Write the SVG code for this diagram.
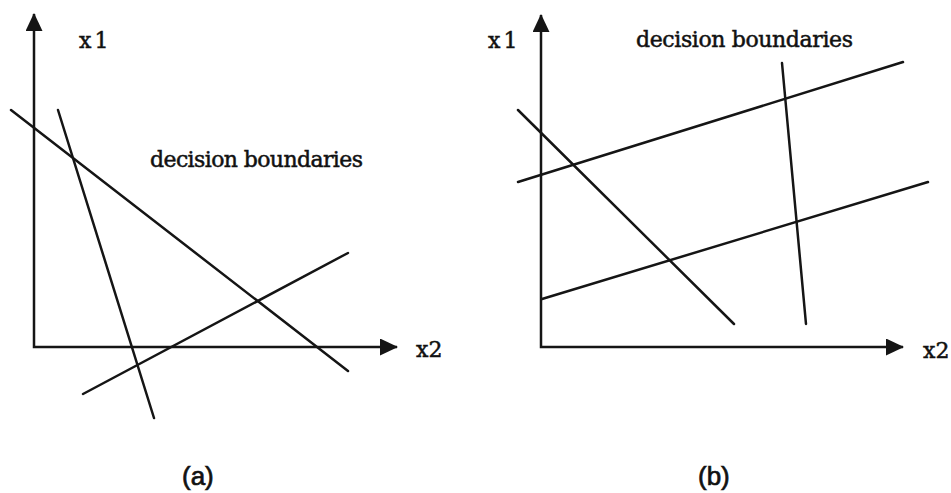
<svg xmlns="http://www.w3.org/2000/svg" width="951" height="493" viewBox="0 0 951 493">
<style>
.bg{fill:#ffffff}
.ax{fill:none;stroke:#151515;stroke-width:2.5}
.ln{stroke:#151515;stroke-width:2.5;stroke-linecap:round}
.lbl{font-family:"DejaVu Serif","Liberation Serif",serif;font-size:22px;fill:#111;stroke:#111;stroke-width:0.5}
.cap{font-family:"Liberation Sans",Arial,sans-serif;font-size:26px;fill:#111;stroke:#111;stroke-width:0.7}
</style>
<defs>
<marker id="arr" markerUnits="userSpaceOnUse" markerWidth="18" markerHeight="17" viewBox="0 0 18 17" refX="17" refY="8.5" orient="auto-start-reverse">
<path d="M0,0 L18,8.5 L0,17 Z" fill="#151515"/>
</marker>
</defs>
<rect class="bg" x="0" y="0" width="951" height="493"/>
<g id="panel-a">
<g id="axes-a">
<path class="ax" d="M34,14 V347 H397" marker-start="url(#arr)" marker-end="url(#arr)"/>
</g>
<g id="connectors-a">
<line class="ln" x1="11" y1="110" x2="348" y2="371"/>
<line class="ln" x1="58" y1="110" x2="154" y2="418"/>
<line class="ln" x1="83" y1="394" x2="348" y2="253"/>
</g>
<g id="labels-a">
<text class="lbl" x="79" y="48" letter-spacing="3">x1</text>
<text class="lbl" x="416" y="357">x2</text>
<text class="lbl" x="150" y="167" textLength="213" lengthAdjust="spacing">decision boundaries</text>
<text class="cap" x="182" y="485">(a)</text>
</g>
</g>
<g id="panel-b">
<g id="axes-b">
<path class="ax" d="M541,15 V347 H903" marker-start="url(#arr)" marker-end="url(#arr)"/>
</g>
<g id="connectors-b">
<line class="ln" x1="518" y1="182" x2="903" y2="62"/>
<line class="ln" x1="542" y1="299" x2="928" y2="182"/>
<line class="ln" x1="518" y1="110" x2="734" y2="324"/>
<line class="ln" x1="782" y1="63" x2="806" y2="324"/>
</g>
<g id="labels-b">
<text class="lbl" x="488" y="48" letter-spacing="3">x1</text>
<text class="lbl" x="923" y="358">x2</text>
<text class="lbl" x="636" y="47" textLength="217" lengthAdjust="spacing">decision boundaries</text>
<text class="cap" x="698" y="485">(b)</text>
</g>
</g>
</svg>
